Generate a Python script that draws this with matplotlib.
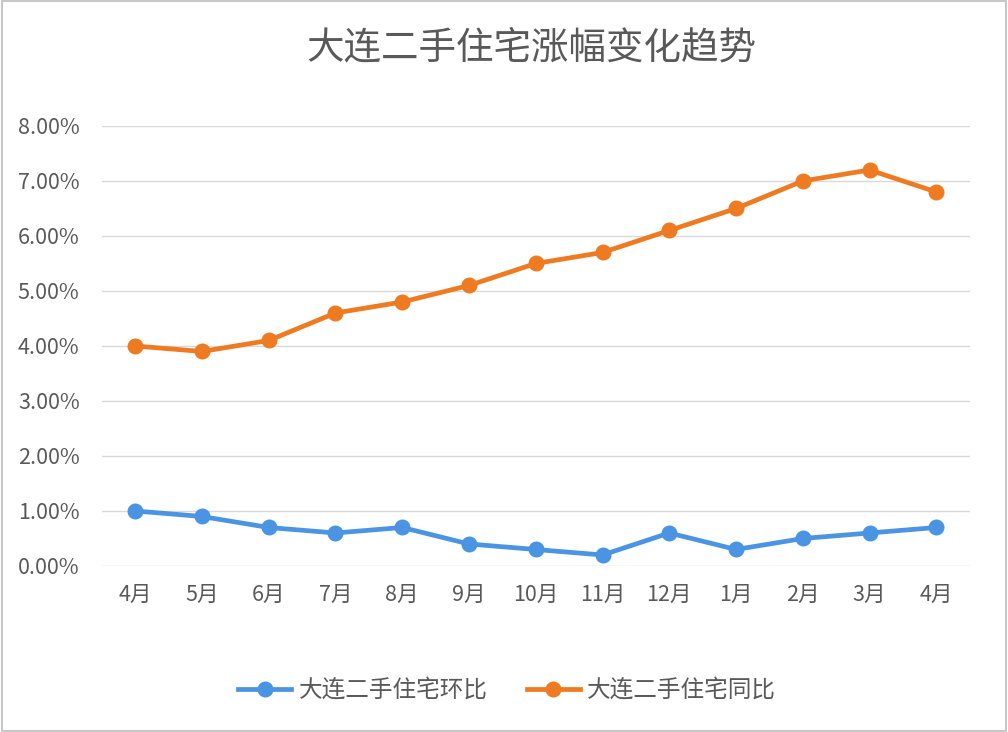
import matplotlib
matplotlib.use("Agg")
import matplotlib.pyplot as plt
from matplotlib.ticker import PercentFormatter
from matplotlib.patches import Rectangle

plt.rcParams['font.family'] = ['Noto Sans CJK SC', 'DejaVu Sans']

months = ["4月", "5月", "6月", "7月", "8月", "9月", "10月", "11月", "12月", "1月", "2月", "3月", "4月"]
mom = [1.0, 0.9, 0.7, 0.6, 0.7, 0.4, 0.3, 0.2, 0.6, 0.3, 0.5, 0.6, 0.7]  # 环比 (%)
yoy = [4.0, 3.9, 4.1, 4.6, 4.8, 5.1, 5.5, 5.7, 6.1, 6.5, 7.0, 7.2, 6.8]  # 同比 (%)

blue = "#4A94E3"
orange = "#EE7A22"
txt = "#595959"

fig = plt.figure(figsize=(10.08, 7.32), dpi=100)
ax = fig.add_axes([0.101, 0.2268, 0.861, 0.6011])

x = range(len(months))
ax.plot(x, mom, color=blue, lw=3.4, marker="o", ms=10.5, label="大连二手住宅环比", clip_on=False, zorder=3)
ax.plot(x, yoy, color=orange, lw=3.4, marker="o", ms=10.5, label="大连二手住宅同比", clip_on=False, zorder=3)

ax.set_xlim(-0.5, len(months) - 0.5)
ax.set_ylim(0, 8)
ax.set_yticks([0, 1, 2, 3, 4, 5, 6, 7, 8])
ax.yaxis.set_major_formatter(PercentFormatter(decimals=2))
ax.set_xticks(list(x))
ax.set_xticklabels(months)
ax.grid(axis="y", color="#D9D9D9", lw=1)
ax.set_axisbelow(True)
for s in ax.spines.values():
    s.set_visible(False)
ax.tick_params(length=0, labelsize=15.5, colors=txt)
ax.tick_params(axis="x", pad=13)
ax.tick_params(axis="y", pad=16)

fig.text(0.527, 0.935, "大连二手住宅涨幅变化趋势", ha="center", va="center", fontsize=27,
         color=txt, fontweight="light")

leg = fig.legend(loc="center", bbox_to_anchor=(0.503, 0.057), ncol=2, frameon=False,
                 fontsize=17, handlelength=2.25, columnspacing=1.65, handletextpad=0.3)
for t in leg.get_texts():
    t.set_color(txt)

fig.patches.append(Rectangle((0.002, 0.002), 0.996, 0.996, transform=fig.transFigure,
                             fill=False, edgecolor="#C8C8C8", lw=1.5))

fig.savefig("out.png", dpi=100)
